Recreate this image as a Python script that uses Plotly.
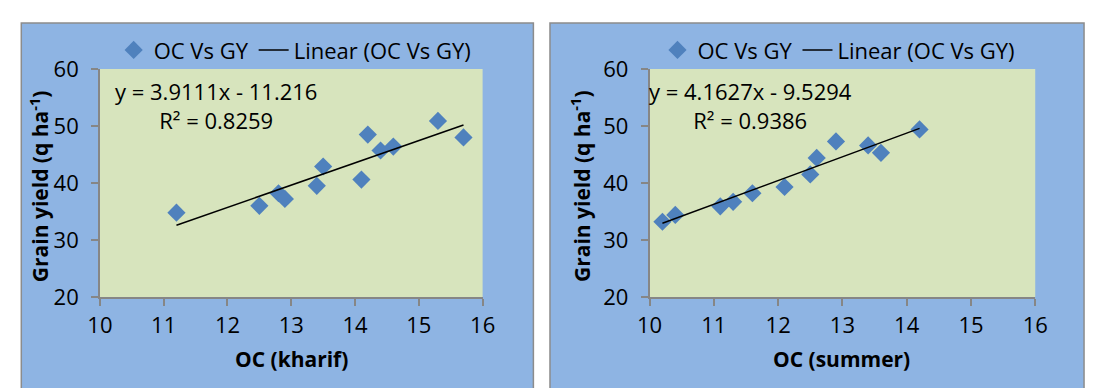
import plotly.graph_objects as go

# Organic carbon vs grain yield, kharif season
oc_kharif = [11.2, 12.5, 12.8, 12.9, 13.4, 13.5, 14.1, 14.2, 14.4, 14.6, 15.3, 15.7]
gy_kharif = [34.8, 36.0, 38.2, 37.2, 39.5, 42.9, 40.6, 48.5, 45.7, 46.4, 50.9, 48.0]
slope_kharif, icpt_kharif, r2_kharif = 3.9111, -11.216, 0.8259

# Organic carbon vs grain yield, summer season
oc_summer = [10.2, 10.4, 11.1, 11.3, 11.6, 12.1, 12.5, 12.6, 12.9, 13.4, 13.6, 14.2]
gy_summer = [33.2, 34.4, 35.9, 36.7, 38.2, 39.3, 41.5, 44.4, 47.3, 46.6, 45.3, 49.4]
slope_summer, icpt_summer, r2_summer = 4.1627, -9.5294, 0.9386

x_ticks = [10, 11, 12, 13, 14, 15, 16]
y_ticks = [20, 30, 40, 50, 60]

W, H = 1099, 388
FONT = "Open Sans"
BLUE_BG = "#8EB4E3"
PLOT_BG = "#D7E4BD"
AXIS_GREY = "#868686"
MARKER = "#4F81BD"


def px(x):
    return x / W


def py(y):
    return 1 - y / H


fig = go.Figure()

panels = [
    dict(oc=oc_kharif, gy=gy_kharif, slope=slope_kharif, icpt=icpt_kharif, r2=r2_kharif,
         xa="x", ya="y", legend="legend", title="OC (kharif)",
         box=(8.5, 533), plot=(89, 481), eq_x=208, xtitle_x=285, ytitle_x=27, leg_x=289),
    dict(oc=oc_summer, gy=gy_summer, slope=slope_summer, icpt=icpt_summer, r2=r2_summer,
         xa="x2", ya="y2", legend="legend2", title="OC (summer)",
         box=(550, 1097), plot=(652, 1047), eq_x=755, xtitle_x=849, ytitle_x=582, leg_x=846),
]

PLOT_TOP, PLOT_BOTTOM = 57.5, 304.5

shapes = []
annotations = []
for p in panels:
    # chart area and plot area backgrounds
    shapes.append(dict(type="rect", xref="paper", yref="paper", layer="below",
                       x0=px(p["box"][0]), x1=px(p["box"][1]), y0=-0.05, y1=py(7.5),
                       fillcolor=BLUE_BG, line=dict(color="#8C8C8C", width=1.5)))
    shapes.append(dict(type="rect", xref="paper", yref="paper", layer="below",
                       x0=px(p["plot"][0]), x1=px(p["plot"][1]),
                       y0=py(PLOT_BOTTOM), y1=py(PLOT_TOP),
                       fillcolor=PLOT_BG, line=dict(width=0)))

    fig.add_trace(go.Scatter(
        x=p["oc"], y=p["gy"], mode="markers", name="OC Vs GY",
        marker=dict(symbol="diamond", size=14, color=MARKER, line=dict(width=0)),
        xaxis=p["xa"], yaxis=p["ya"], legend=p["legend"]))

    x_fit = [min(p["oc"]), max(p["oc"])]
    y_fit = [p["slope"] * v + p["icpt"] for v in x_fit]
    fig.add_trace(go.Scatter(
        x=x_fit, y=y_fit, mode="lines", name="Linear (OC Vs GY)",
        line=dict(color="black", width=1.5),
        xaxis=p["xa"], yaxis=p["ya"], legend=p["legend"]))

    # trendline equation and R² as a two-line label
    sign = "-" if p["icpt"] < 0 else "+"
    eq_text = (f"y = {p['slope']:.4f}x {sign} {abs(p['icpt']):g}"
               f"<br>R² = {p['r2']:.4f}")
    annotations.append(dict(
        xref="paper", yref="paper", x=px(p["eq_x"]), y=py(97), xanchor="center", yanchor="middle",
        text=eq_text, align="center", showarrow=False,
        font=dict(family=FONT, size=22, color="black")))
    annotations.append(dict(
        xref="paper", yref="paper", x=px(p["xtitle_x"]), y=py(372), xanchor="center", yanchor="middle",
        text=f"<b>{p['title']}</b>", showarrow=False,
        font=dict(family=FONT, size=21, color="black")))
    annotations.append(dict(
        xref="paper", yref="paper", x=px(p["ytitle_x"]), y=py(184), xanchor="center", yanchor="middle",
        text="<b>Grain yield (q ha<sup>-1</sup>)</b>", textangle=-90, showarrow=False,
        font=dict(family=FONT, size=21, color="black")))

axis_common = dict(showline=True, linecolor=AXIS_GREY, linewidth=1.5, ticks="outside",
                   ticklen=7, tickwidth=1.5, tickcolor=AXIS_GREY, showgrid=False,
                   zeroline=False, mirror=False,
                   tickfont=dict(family=FONT, size=22, color="black"))

layout = dict(
    width=W, height=H, margin=dict(l=0, r=0, t=0, b=0),
    paper_bgcolor="white", plot_bgcolor="rgba(0,0,0,0)",
    shapes=shapes, annotations=annotations,
)
for i, p in enumerate(panels):
    sfx = "" if i == 0 else str(i + 1)
    layout[f"xaxis{sfx}"] = dict(axis_common, range=[10, 16], tickvals=x_ticks,
                                 domain=[px(p["plot"][0]), px(p["plot"][1])],
                                 anchor=f"y{sfx}", ticklabelstandoff=1)
    layout[f"yaxis{sfx}"] = dict(axis_common, range=[20, 60], tickvals=y_ticks,
                                 domain=[py(PLOT_BOTTOM), py(PLOT_TOP)],
                                 anchor=f"x{sfx}", ticklabelstandoff=8)
    layout[p["legend"]] = dict(orientation="h", x=px(p["leg_x"]), xanchor="center",
                               y=py(37), yanchor="middle", bgcolor="rgba(0,0,0,0)",
                               font=dict(family=FONT, size=22, color="black"))

fig.update_layout(**layout)
fig.write_html("out.html")
